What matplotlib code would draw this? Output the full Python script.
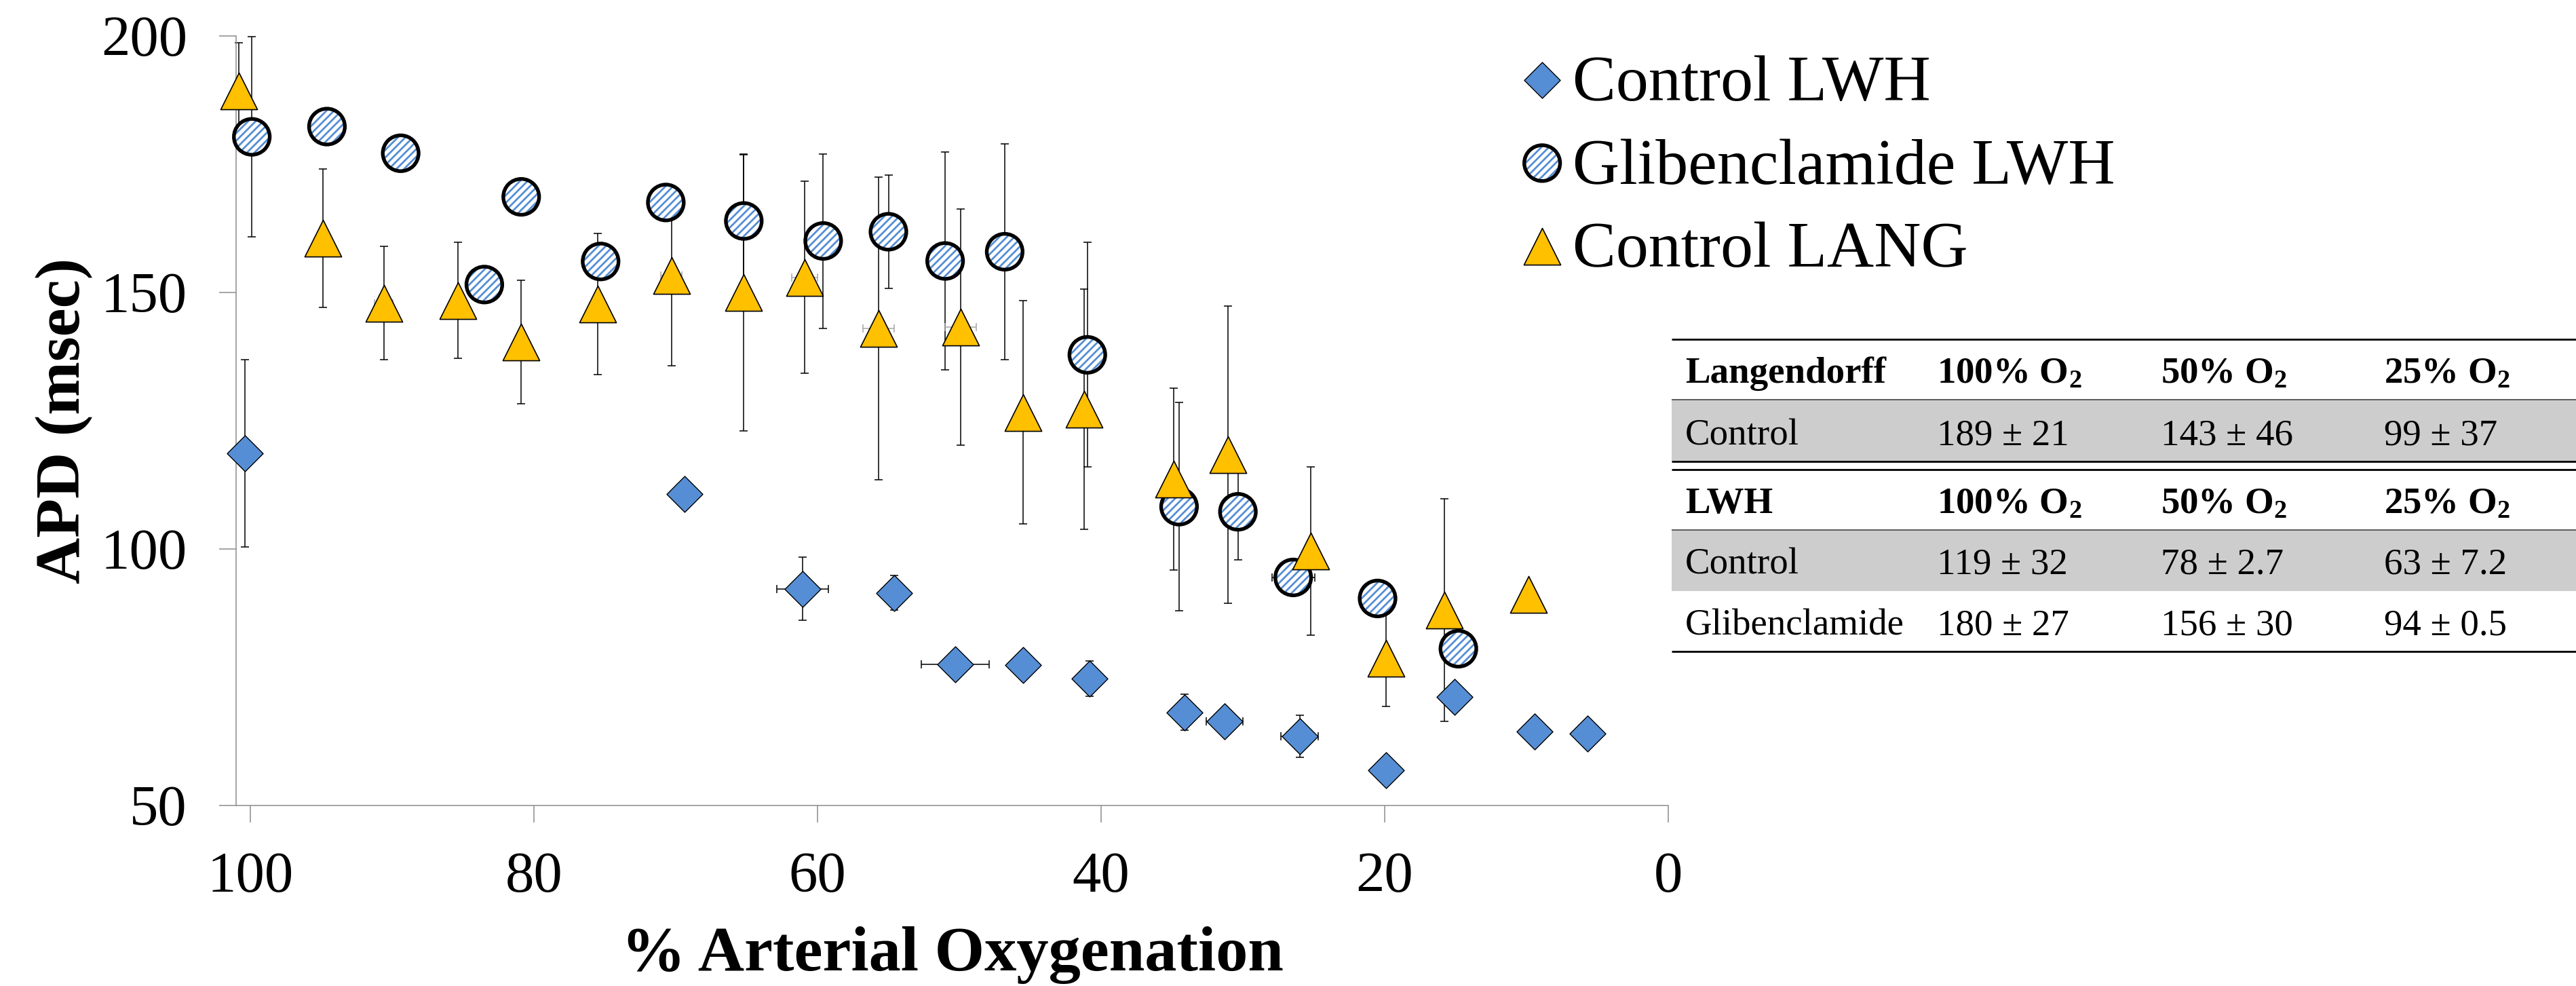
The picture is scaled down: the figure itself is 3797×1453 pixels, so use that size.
import numpy as np
import matplotlib
matplotlib.use('Agg')
import matplotlib.pyplot as plt
from matplotlib.patches import Rectangle
from matplotlib.legend_handler import HandlerTuple

plt.rcParams['font.family'] = ['Liberation Serif', 'DejaVu Serif']
plt.rcParams['mathtext.fontset'] = 'custom'
plt.rcParams['mathtext.rm'] = 'Liberation Serif'
plt.rcParams['mathtext.it'] = 'Liberation Serif:italic'
plt.rcParams['mathtext.bf'] = 'Liberation Serif:bold'
plt.rcParams['hatch.linewidth'] = 2.0

# values
ctrl_lwh_x = [100.4, 69.4, 61.05, 54.6, 50.3, 45.5, 40.8, 34.1, 31.3, 26.0, 19.9, 15.06, 9.44, 5.7]
ctrl_lwh_y = [118.6, 110.7, 92.2, 91.4, 77.4, 77.3, 74.7, 68.1, 66.3, 63.4, 56.8, 71.1, 64.4, 64.0]
ctrl_lwh_yerr = [18.2, 0, 6.1, 3.4, 0, 0, 3.4, 3.5, 0, 4.1, 0, 0, 0, 0]
ctrl_lwh_xerr = [0, 0, 1.8, 0, 2.4, 0, 0, 0, 1.3, 1.3, 0, 0, 0, 0]

glib_x = [99.9, 94.6, 89.4, 83.5, 80.9, 75.3, 70.7, 65.2, 59.6, 55.0, 51.0, 46.8, 40.97, 34.5, 30.35, 26.45, 20.5, 14.8]
glib_y = [180.3, 182.3, 177.1, 151.5, 168.6, 156.0, 167.5, 163.9, 160.0, 161.8, 156.1, 157.9, 137.8, 108.2, 107.2, 94.4, 90.3, 80.5]
glib_yerr = [19.5, 0, 0, 0, 0, 0, 0, 12.9, 17.0, 11.1, 21.2, 21.0, 21.9, 20.3, 9.4, 0, 0, 0]
glib_xerr = [0, 0, 0, 0, 0, 0, 0, 0, 0, 0, 0, 0, 0, 0, 0, 1.5, 0, 0]

lang_x = [100.8, 94.9, 90.6, 85.35, 80.9, 75.5, 70.3, 65.2, 60.9, 55.7, 49.9, 45.5, 41.2, 34.9, 31.05, 25.2, 19.9, 15.8, 9.85]
lang_y = [189.3, 160.6, 147.9, 148.4, 140.3, 147.7, 153.2, 150.0, 152.9, 142.9, 143.2, 126.6, 127.2, 113.6, 118.3, 99.5, 78.7, 88.0, 91.1]
lang_yerr = [9.3, 13.5, 11.0, 11.3, 12.0, 13.8, 17.5, 27.0, 18.7, 29.5, 23.0, 21.8, 23.4, 17.7, 29.0, 16.4, 9.4, 21.7, 0]
lang_xerr = [0, 0, 0.65, 0, 0, 0, 0.75, 0, 0.9, 1.1, 1.1, 0, 0, 0, 0, 0, 0, 0, 0]

# table values
o2_levels = ['100%', '50%', '25%']
lang_rows = [['Control', '189 ± 21', '143 ± 46', '99 ± 37']]
lwh_rows = [['Control', '119 ± 32', '78 ± 2.7', '63 ± 7.2'],
            ['Glibenclamide', '180 ± 27', '156 ± 30', '94 ± 0.5']]

blue = '#558ED5'
gold = '#FFC000'
axis_grey = '#8C8C8C'

fig = plt.figure(figsize=(37.97, 14.53), dpi=100)
ax = fig.add_axes([0.0917, 0.1834, 0.5559, 0.7803])


def draw_err(x, y, yerr, xerr, xcolor):
    x, y, yerr, xerr = map(np.asarray, (x, y, yerr, xerr))
    m = yerr > 0
    ax.errorbar(x[m], y[m], yerr=yerr[m], fmt='none', ecolor='black',
                elinewidth=1.1, capsize=4.2, capthick=1.1, zorder=1, clip_on=False)
    m = xerr > 0
    ax.errorbar(x[m], y[m], xerr=xerr[m], fmt='none', ecolor=xcolor,
                elinewidth=1.1, capsize=4.2, capthick=1.1, zorder=1, clip_on=False)


draw_err(ctrl_lwh_x, ctrl_lwh_y, ctrl_lwh_yerr, ctrl_lwh_xerr, 'black')
draw_err(glib_x, glib_y, glib_yerr, glib_xerr, 'black')
draw_err(lang_x, lang_y, lang_yerr, lang_xerr, '#A6A6A6')

d = ax.scatter(ctrl_lwh_x, ctrl_lwh_y, s=27 ** 2, marker='D', facecolor=blue,
               edgecolor='black', linewidth=1.0, zorder=3, clip_on=False)
g_fill = ax.scatter(glib_x, glib_y, s=38 ** 2, marker='o', facecolor='white',
                    edgecolor=blue, linewidth=0, hatch='///', zorder=4, clip_on=False)
g_ring = ax.scatter(glib_x, glib_y, s=38 ** 2, marker='o', facecolor='none',
                    edgecolor='black', linewidth=3.9, zorder=4.1, clip_on=False)
t = ax.scatter(lang_x, lang_y, s=39 ** 2, marker='^', facecolor=gold,
               edgecolor='black', linewidth=1.2, zorder=5, clip_on=False)

ax.set_xlim(101, 0)
ax.set_ylim(50, 200)
ax.set_xticks([100, 80, 60, 40, 20, 0])
ax.set_yticks([50, 100, 150, 200])
for side in ['top', 'right']:
    ax.spines[side].set_visible(False)
for side in ['left', 'bottom']:
    ax.spines[side].set_color(axis_grey)
    ax.spines[side].set_linewidth(1.1)
ax.tick_params(axis='both', direction='out', length=18, width=1.1,
               color=axis_grey, labelsize=61)
ax.tick_params(axis='x', pad=31)
ax.tick_params(axis='y', pad=34)

ax.set_xlabel('% Arterial Oxygenation', fontsize=68, fontweight='bold')
ax.set_ylabel('APD (msec)', fontsize=68, fontweight='bold')
ax.xaxis.set_label_coords(0.5, -0.157)
ax.yaxis.set_label_coords(-0.100, 0.5)

ax.legend([d, (g_fill, g_ring), t], ['Control LWH', 'Glibenclamide LWH', 'Control LANG'],
          handler_map={tuple: HandlerTuple(ndivide=1, pad=0)},
          loc='upper left', bbox_to_anchor=(0.5911, 0.9443), bbox_transform=fig.transFigure,
          frameon=False, fontsize=69, handlelength=0.6, handletextpad=0.17,
          labelspacing=0.37, borderpad=0, borderaxespad=0,
          scatterpoints=1, scatteryoffsets=[0.45])

# summary table drawn on a full-figure overlay (pixel coordinates)
tab = fig.add_axes([0, 0, 1, 1])
tab.set_xlim(0, 3797)
tab.set_ylim(1453, 0)
tab.axis('off')
tx0, tx1 = 2464, 3797
col_x = [2484, 2855, 3185, 3514]
fs = 39.5

tab.add_patch(Rectangle((tx0, 590), tx1 - tx0, 89, facecolor='#CDCDCD', edgecolor='none'))
tab.add_patch(Rectangle((tx0, 782), tx1 - tx0, 89, facecolor='#CDCDCD', edgecolor='none'))
tab.hlines([500, 680, 692, 960], tx0, tx1, colors='black', linewidth=2.0)
tab.hlines([589, 781], tx0, tx1, colors='#404040', linewidth=1.2)


def header(y, first):
    cells = [first] + [lvl + r' O$_\mathbf{2}$' for lvl in o2_levels]
    for cx, txt in zip(col_x, cells):
        tab.text(cx, y, txt, fontsize=fs, fontweight='bold', ha='left', va='baseline')


def body(y, row):
    for cx, txt in zip(col_x, row):
        tab.text(cx, y, txt, fontsize=fs, ha='left', va='baseline')


header(564, 'Langendorff')
body(655, lang_rows[0])
header(756, 'LWH')
body(845, lwh_rows[0])
body(935, lwh_rows[1])

fig.savefig('out.png', dpi=100)
